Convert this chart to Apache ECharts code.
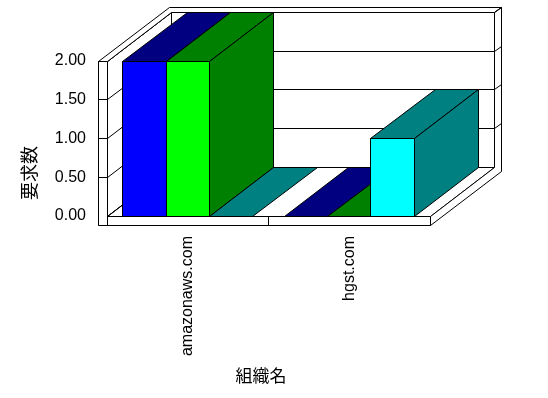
<!DOCTYPE html>
<html><head><meta charset="utf-8">
<script src="https://cdn.jsdelivr.net/npm/echarts@6/dist/echarts.min.js"></script>
<style>html,body{margin:0;padding:0;background:#fff}#c{width:548px;height:398px}</style>
</head><body><div id="c"></div>
<script>
// ---- data ----
const categories = ['amazonaws.com', 'hgst.com'];
const valuesBlue = [2, 0];
const valuesLime = [2, 0];
const valuesCyan = [0, 1];
const yTickValues = [0, 0.5, 1, 1.5, 2];
const xAxisTitle = '組織名';
const yAxisTitle = '要求数';

// ---- styles ----
const seriesColors = [
  { face: '#0000ff', dark: '#000080' },
  { face: '#00ff00', dark: '#008000' },
  { face: '#00ffff', dark: '#008080' }
];
const DX = 64.6, DY = 48.7;   // depth offset (px)
const T = 0.1;                 // back-wall thickness (fraction of depth)
const W = 9;                   // left wall / floor thickness (px)
const LINE = { stroke: '#000', lineWidth: 1 };

function s(v) { return Math.round(v - 0.5) + 0.5; }
function S(p) { return [s(p[0]), s(p[1])]; }
function P(x, y, k) { return S([x + k * DX, y - k * DY]); }
function poly(points, fill) {
  return { type: 'polygon', shape: { points: points.map(S) }, style: Object.assign({ fill: fill }, LINE) };
}
function line(a, b) {
  a = S(a); b = S(b);
  return { type: 'line', shape: { x1: a[0], y1: a[1], x2: b[0], y2: b[1] }, style: Object.assign({ fill: null }, LINE) };
}

function frameRender(params, api) {
  const cs = params.coordSys;
  const x0 = cs.x, x1 = cs.x + cs.width;
  const yT = cs.y, yB = cs.y + cs.height;
  const xw = x0 - W;
  const ch = [];
  // back wall front face
  ch.push(poly([P(x0, yT, 1), P(x1, yT, 1), P(x1, yB, 1), P(x0, yB, 1)], '#fff'));
  // left wall inner face
  ch.push(poly([P(x0, yT, 0), P(x0, yT, 1), P(x0, yB, 1), P(x0, yB, 0)], '#fff'));
  // floor top
  ch.push(poly([P(x0, yB, 0), P(x1, yB, 0), P(x1, yB, 1), P(x0, yB, 1)], '#fff'));
  // gridlines
  yTickValues.forEach(function (v) {
    const y = api.coord([0, v])[1];
    ch.push(line(P(x0, y, 1), P(x1, y, 1)));
    ch.push(line(P(x0, y, 0), P(x0, y, 1)));
  });
  // top of walls
  ch.push(poly([P(xw, yT, 0), P(x0, yT, 0), P(x0, yT, 1), P(x1, yT, 1), P(x1, yT, 1 + T), P(xw, yT, 1 + T)], '#fff'));
  // right side of back wall + floor
  ch.push(poly([P(x1, yT, 1), P(x1, yT, 1 + T), P(x1, yB + W, 1 + T), P(x1, yB + W, 0), P(x1, yB, 0), P(x1, yB, 1)], '#fff'));
  yTickValues.forEach(function (v) {
    const y = api.coord([0, v])[1];
    if (v > 0) ch.push(line(P(x1, y, 1), P(x1, y, 1 + T)));
  });
  // floor front face
  ch.push(poly([[xw, yB], [x1, yB], [x1, yB + W], [xw, yB + W]], '#fff'));
  const band = cs.width / categories.length;
  for (let i = 1; i < categories.length; i++) {
    ch.push(line([x0 + band * i, yB], [x0 + band * i, yB + W]));
  }
  // left wall front face
  ch.push(poly([[xw, yT], [x0, yT], [x0, yB + W], [xw, yB + W]], '#fff'));
  yTickValues.forEach(function (v) {
    const y = api.coord([0, v])[1];
    if (v > 0) ch.push(line([xw, y], [x0, y]));
  });
  return { type: 'group', children: ch };
}

function barRender(si) {
  return function (params, api) {
    const cat = api.value(0), v = api.value(1);
    const c = api.coord([cat, v]);
    const b = api.coord([cat, 0]);
    const band = api.size([1, 0])[0];
    const bw = band * 0.268;
    const xl = c[0] - 1.5 * bw + si * bw, xr = xl + bw;
    const yt = c[1], yb = b[1];
    const col = seriesColors[si];
    const ch = [];
    if (yb - yt > 0.5) ch.push(poly([[xl, yt], [xr, yt], [xr, yb], [xl, yb]], col.face));
    ch.push(poly([P(xl, yt, 0), P(xr, yt, 0), P(xr, yt, 1), P(xl, yt, 1)], col.dark));
    if (yb - yt > 0.5) ch.push(poly([P(xr, yt, 0), P(xr, yt, 1), P(xr, yb, 1), P(xr, yb, 0)], col.dark));
    return { type: 'group', children: ch };
  };
}

const allValues = [valuesBlue, valuesLime, valuesCyan];
const chart = echarts.init(document.getElementById('c'), null, { renderer: 'canvas' });
const series = [{
  type: 'custom', renderItem: frameRender, data: [[0, 0]], silent: true, z: 1
}];
allValues.forEach(function (vals, si) {
  series.push({
    type: 'custom', renderItem: barRender(si), silent: true, z: 2 + si,
    data: vals.map(function (v, i) { return [i, v]; })
  });
});

chart.setOption({
  animation: false,
  backgroundColor: '#fff',
  grid: { left: 107, right: 118, top: 61, bottom: 182 },
  xAxis: {
    type: 'category', data: categories,
    axisLine: { show: false }, axisTick: { show: false }, splitLine: { show: false },
    axisLabel: { rotate: 90, margin: 20, color: '#000', fontSize: 16, fontFamily: 'Liberation Sans' }
  },
  yAxis: {
    type: 'value', min: 0, max: 2, interval: 0.5,
    axisLine: { show: false }, axisTick: { show: false }, splitLine: { show: false },
    axisLabel: { margin: 21, color: '#000', fontSize: 16, fontFamily: 'Liberation Sans',
      formatter: function (v) { return v.toFixed(2); } }
  },
  graphic: [
    { type: 'text', x: 261, y: 376, style: { text: xAxisTitle, fill: '#000', font: '17px "Noto Sans CJK JP"', textAlign: 'center', textVerticalAlign: 'middle' } },
    { type: 'text', x: 29, y: 173, rotation: Math.PI / 2, style: { text: yAxisTitle, fill: '#000', font: '18px "Noto Sans CJK JP"', textAlign: 'center', textVerticalAlign: 'middle' } }
  ],
  series: series
});
</script>
</body></html>
